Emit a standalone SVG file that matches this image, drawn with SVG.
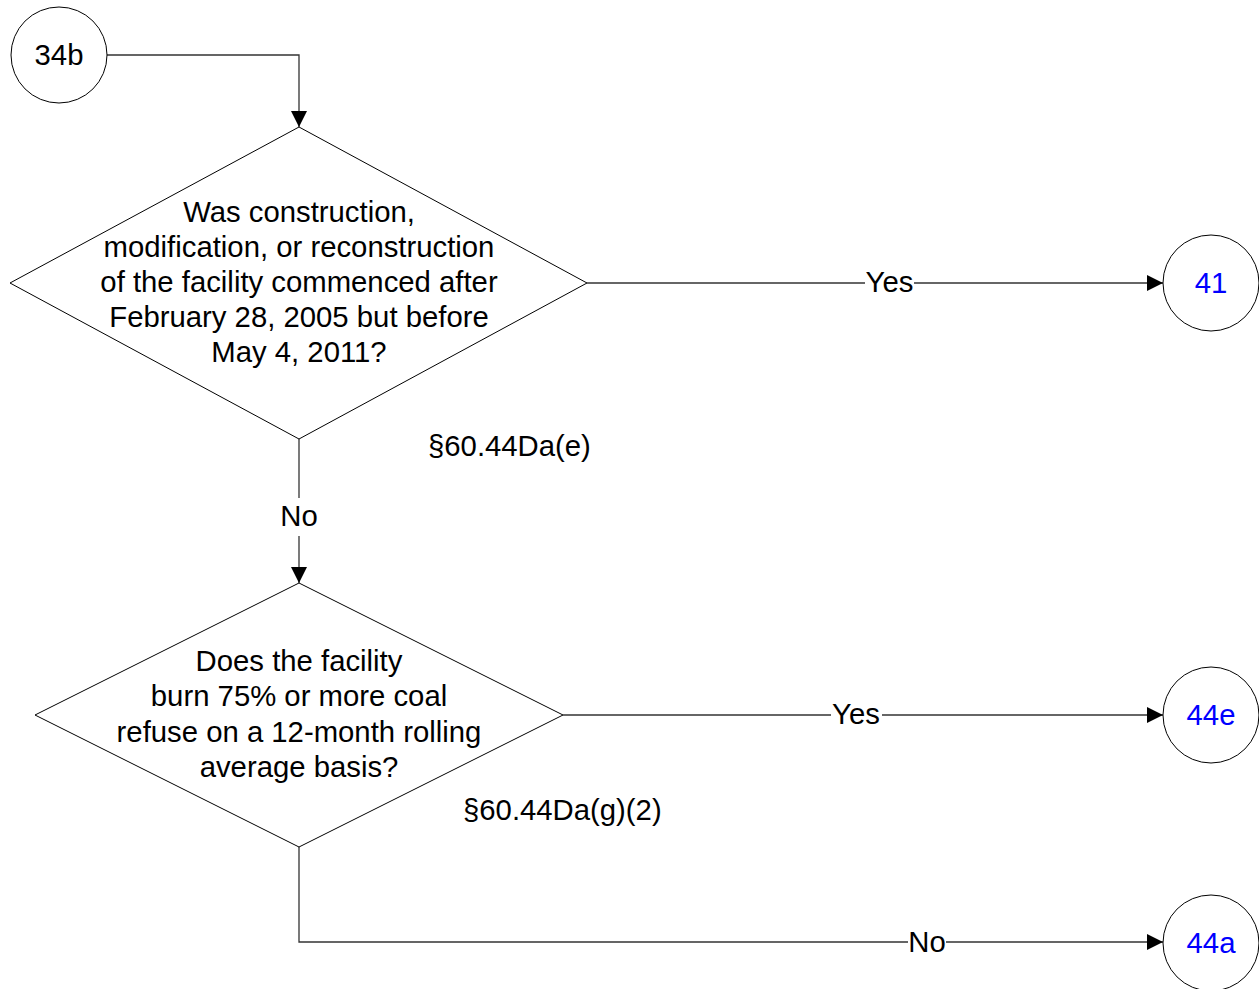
<svg xmlns="http://www.w3.org/2000/svg" width="1259" height="989" viewBox="0 0 1259 989">
<style>
.s{fill:#fff;stroke:#000;stroke-width:1}
.t{font-family:"Liberation Sans",Arial,sans-serif;font-size:29.3px;fill:#000}
.b{fill:#0000ff}
.c{fill:none;stroke:#333;stroke-width:1.3}
.lb{fill:#fff}
</style>
<defs>
<marker id="a" markerWidth="16" markerHeight="16" refX="16" refY="8" orient="auto" markerUnits="userSpaceOnUse">
<path d="M0,0 L16,8 L0,16 z" fill="#000"/>
</marker>
</defs>
<rect width="1259" height="989" fill="#fff"/>
<g id="connectors">
<path class="c" d="M107,55 H299 V127" marker-end="url(#a)"/>
<path class="c" d="M587,283 H1163" marker-end="url(#a)"/>
<path class="c" d="M299,439 V583" marker-end="url(#a)"/>
<path class="c" d="M563,715 H1163" marker-end="url(#a)"/>
<path class="c" d="M299,847 V942 H1163" marker-end="url(#a)"/>
<rect class="lb" x="865" y="268" width="49" height="30"/>
<text class="t" x="889.5" y="292" text-anchor="middle">Yes</text>
<rect class="lb" x="280" y="498" width="38" height="38"/>
<text class="t" x="299" y="526" text-anchor="middle">No</text>
<rect class="lb" x="831" y="700" width="51" height="30"/>
<text class="t" x="856" y="724" text-anchor="middle">Yes</text>
<rect class="lb" x="908" y="927" width="38" height="30"/>
<text class="t" x="927" y="952" text-anchor="middle">No</text>
</g>
<g id="n34b">
<circle class="s" cx="59" cy="55" r="48"/>
<text class="t" x="59" y="65" text-anchor="middle">34b</text>
</g>
<g id="d1">
<polygon class="s" points="299,127 587,283 299,439 10,283"/>
<text class="t" text-anchor="middle"><tspan x="299" y="222">Was construction,</tspan><tspan x="299" y="257">modification, or reconstruction</tspan><tspan x="299" y="292">of the facility commenced after</tspan><tspan x="299" y="327">February 28, 2005 but before</tspan><tspan x="299" y="362">May 4, 2011?</tspan></text>
</g>
<text class="t" x="428" y="456">§60.44Da(e)</text>
<g id="d2">
<polygon class="s" points="299,583 563,715 299,847 35,715"/>
<text class="t" text-anchor="middle"><tspan x="299" y="671">Does the facility</tspan><tspan x="299" y="706">burn 75% or more coal</tspan><tspan x="299" y="742">refuse on a 12-month rolling</tspan><tspan x="299" y="777">average basis?</tspan></text>
</g>
<text class="t" x="463" y="820">§60.44Da(g)(2)</text>
<g id="n41">
<circle class="s" cx="1211" cy="283" r="48"/>
<text class="t b" x="1211" y="293" text-anchor="middle">41</text>
</g>
<g id="n44e">
<circle class="s" cx="1211" cy="715" r="48"/>
<text class="t b" x="1211" y="725" text-anchor="middle">44e</text>
</g>
<g id="n44a">
<circle class="s" cx="1211" cy="943" r="48"/>
<text class="t b" x="1211" y="953" text-anchor="middle">44a</text>
</g>
</svg>
